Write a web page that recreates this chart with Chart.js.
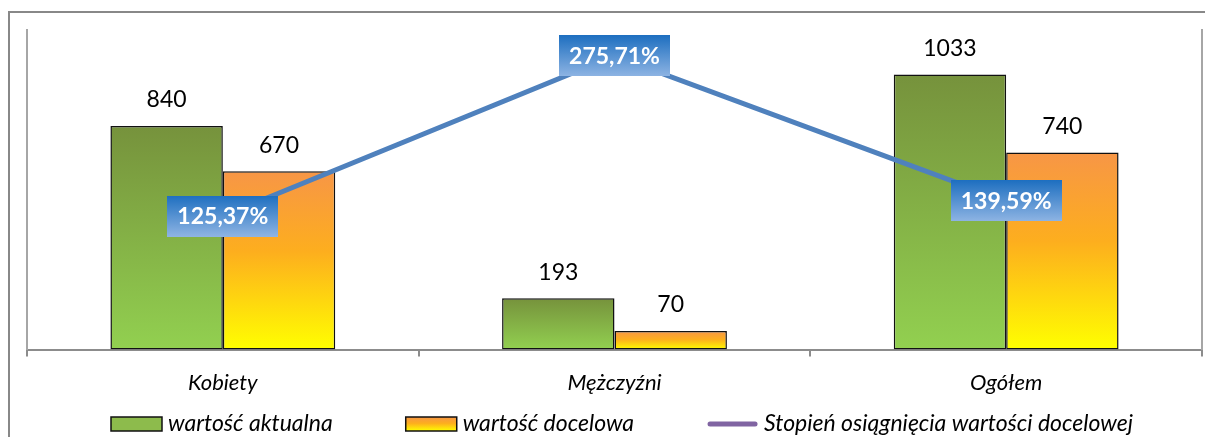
<!DOCTYPE html>
<html lang="pl">
<head>
<meta charset="UTF-8">
<title>Wartość aktualna i docelowa</title>
<script src="https://cdn.jsdelivr.net/npm/chart.js"></script>
<style>
    body { margin: 0; background: #fff; }
    .ramka {
        position: absolute; left: 8px; top: 11px;
        width: 1300px; height: 500px;
        border: 2px solid #888;
    }
    .wykres { position: absolute; left: 0; top: 0; width: 1205px; height: 437px; }
</style>
</head>
<body>
<div class="ramka"></div>
<div class="wykres"><canvas id="wykres"></canvas></div>

<script>
    const kategorie = ['Kobiety', 'Mężczyźni', 'Ogółem'];
    const wartoscAktualna = [840, 193, 1033];
    const wartoscDocelowa = [670, 70, 740];
    const stopienOsiagniecia = [125.37, 275.71, 139.59];
    const nazwySerii = ['wartość aktualna', 'wartość docelowa', 'Stopień osiągnięcia wartości docelowej'];

    const FONT = 'Lato';

    // gradient od wierzcholka slupka do osi
    function gradientSlupka(stopy) {
        return function (ctx) {
            const chart = ctx.chart;
            const area = chart.chartArea;
            if (!area || ctx.type !== 'data') return stopy[0][1];
            const y = chart.scales.y.getPixelForValue(ctx.raw);
            const g = chart.ctx.createLinearGradient(0, y, 0, area.bottom);
            stopy.forEach(s => g.addColorStop(s[0], s[1]));
            return g;
        };
    }
    const stopyZielone = [[0, '#76923C'], [1, '#92D050']];
    const stopyPomarancz = [[0, '#F79646'], [0.45, '#FDAE1E'], [1, '#FFFF00']];

    function procent(v) {
        return v.toFixed(2).replace('.', ',') + '%';
    }

    // etykiety wartosci nad slupkami i ramki z procentami
    const etykiety = {
        id: 'etykiety',
        afterDatasetsDraw(chart) {
            const ctx = chart.ctx;
            ctx.save();
            ctx.textAlign = 'center';
            ctx.textBaseline = 'middle';
            ctx.fillStyle = '#000';
            ctx.font = '23px ' + FONT;
            [0, 1].forEach(i => {
                chart.getDatasetMeta(i).data.forEach((bar, j) => {
                    ctx.fillText(String(chart.data.datasets[i].data[j]), bar.x, bar.y - 26);
                });
            });
            ctx.font = 'bold 23px ' + FONT;
            chart.getDatasetMeta(2).data.forEach((pt, j) => {
                const txt = procent(chart.data.datasets[2].data[j]);
                const w = ctx.measureText(txt).width + 20;
                const h = 41;
                const g = ctx.createLinearGradient(0, pt.y - h / 2, 0, pt.y + h / 2);
                g.addColorStop(0, '#1E6FC0');
                g.addColorStop(1, '#8EB4E3');
                ctx.fillStyle = g;
                ctx.fillRect(Math.round(pt.x - w / 2), Math.round(pt.y - h / 2), Math.round(w), h);
                ctx.fillStyle = '#fff';
                ctx.fillText(txt, pt.x, pt.y + 1);
            });
            ctx.restore();
        }
    };

    // legenda rysowana recznie (odstepy jak w oryginale)
    const legenda = {
        id: 'legenda',
        afterDraw(chart) {
            const ctx = chart.ctx;
            ctx.save();
            ctx.font = 'italic 23px ' + FONT;
            ctx.textBaseline = 'middle';
            ctx.textAlign = 'left';
            const boxW = 51, boxH = 14, gap = 6, odstep = 73;
            const szer = nazwySerii.map(t => boxW + gap + ctx.measureText(t).width);
            const total = szer.reduce((a, b) => a + b, 0) + odstep * (szer.length - 1);
            let x = Math.round(622 - total / 2);
            const yc = 424;
            nazwySerii.forEach((t, i) => {
                if (i < 2) {
                    const stopy = i === 0 ? stopyZielone : stopyPomarancz;
                    const g = ctx.createLinearGradient(0, yc - boxH / 2, 0, yc + boxH / 2);
                    stopy.forEach(s => g.addColorStop(s[0], s[1]));
                    ctx.fillStyle = i === 0 ? '#8DBB4C' : g;
                    ctx.fillRect(x, yc - boxH / 2, boxW, boxH);
                    ctx.strokeStyle = '#111';
                    ctx.lineWidth = 1.5;
                    ctx.strokeRect(x, yc - boxH / 2, boxW, boxH);
                } else {
                    ctx.strokeStyle = '#8064A2';
                    ctx.lineWidth = 5;
                    ctx.lineCap = 'round';
                    ctx.beginPath();
                    ctx.moveTo(x + 3, yc);
                    ctx.lineTo(x + boxW - 3, yc);
                    ctx.stroke();
                }
                ctx.fillStyle = '#000';
                ctx.fillText(t, x + boxW + gap, yc);
                x += szer[i] + odstep;
            });
            ctx.restore();
        }
    };

    const dane = {
        labels: kategorie,
        datasets: [
            {
                type: 'bar',
                label: nazwySerii[0],
                data: wartoscAktualna,
                backgroundColor: gradientSlupka(stopyZielone),
                borderColor: '#111',
                borderWidth: 1.5,
                borderSkipped: false,
                categoryPercentage: 0.574,
                barPercentage: 1,
                yAxisID: 'y',
                order: 1
            },
            {
                type: 'bar',
                label: nazwySerii[1],
                data: wartoscDocelowa,
                backgroundColor: gradientSlupka(stopyPomarancz),
                borderColor: '#111',
                borderWidth: 1.5,
                borderSkipped: false,
                categoryPercentage: 0.574,
                barPercentage: 1,
                yAxisID: 'y',
                order: 1
            },
            {
                type: 'line',
                label: nazwySerii[2],
                data: stopienOsiagniecia,
                borderColor: '#4F81BD',
                backgroundColor: '#4F81BD',
                borderWidth: 5,
                pointRadius: 0,
                tension: 0,
                yAxisID: 'y2',
                order: 0
            }
        ]
    };

    const konfig = {
        data: dane,
        options: {
            responsive: true,
            maintainAspectRatio: false,
            animation: false,
            layout: { padding: { left: 27, right: 3, top: 30, bottom: 28 } },
            plugins: {
                legend: { display: false },
                tooltip: { enabled: false }
            },
            scales: {
                x: {
                    offset: true,
                    grid: {
                        display: true,
                        drawOnChartArea: false,
                        offset: true,
                        tickLength: 7,
                        color: '#8C8C8C',
                        lineWidth: 2
                    },
                    border: { display: true, color: '#8C8C8C', width: 2 },
                    ticks: {
                        padding: 13,
                        color: '#000',
                        font: { family: FONT, size: 22, style: 'italic' }
                    }
                },
                y: {
                    position: 'left',
                    min: 0,
                    max: 1200,
                    grid: { display: false, drawTicks: false },
                    border: { display: true, color: '#A6A6A6', width: 2 },
                    ticks: { display: false }
                },
                y2: {
                    position: 'right',
                    min: 0,
                    max: 300,
                    grid: { display: false, drawTicks: false },
                    border: { display: true, color: '#A6A6A6', width: 2 },
                    ticks: { display: false }
                }
            }
        },
        plugins: [etykiety, legenda]
    };

    const wykres = new Chart(document.getElementById('wykres'), konfig);
</script>
</body>
</html>
